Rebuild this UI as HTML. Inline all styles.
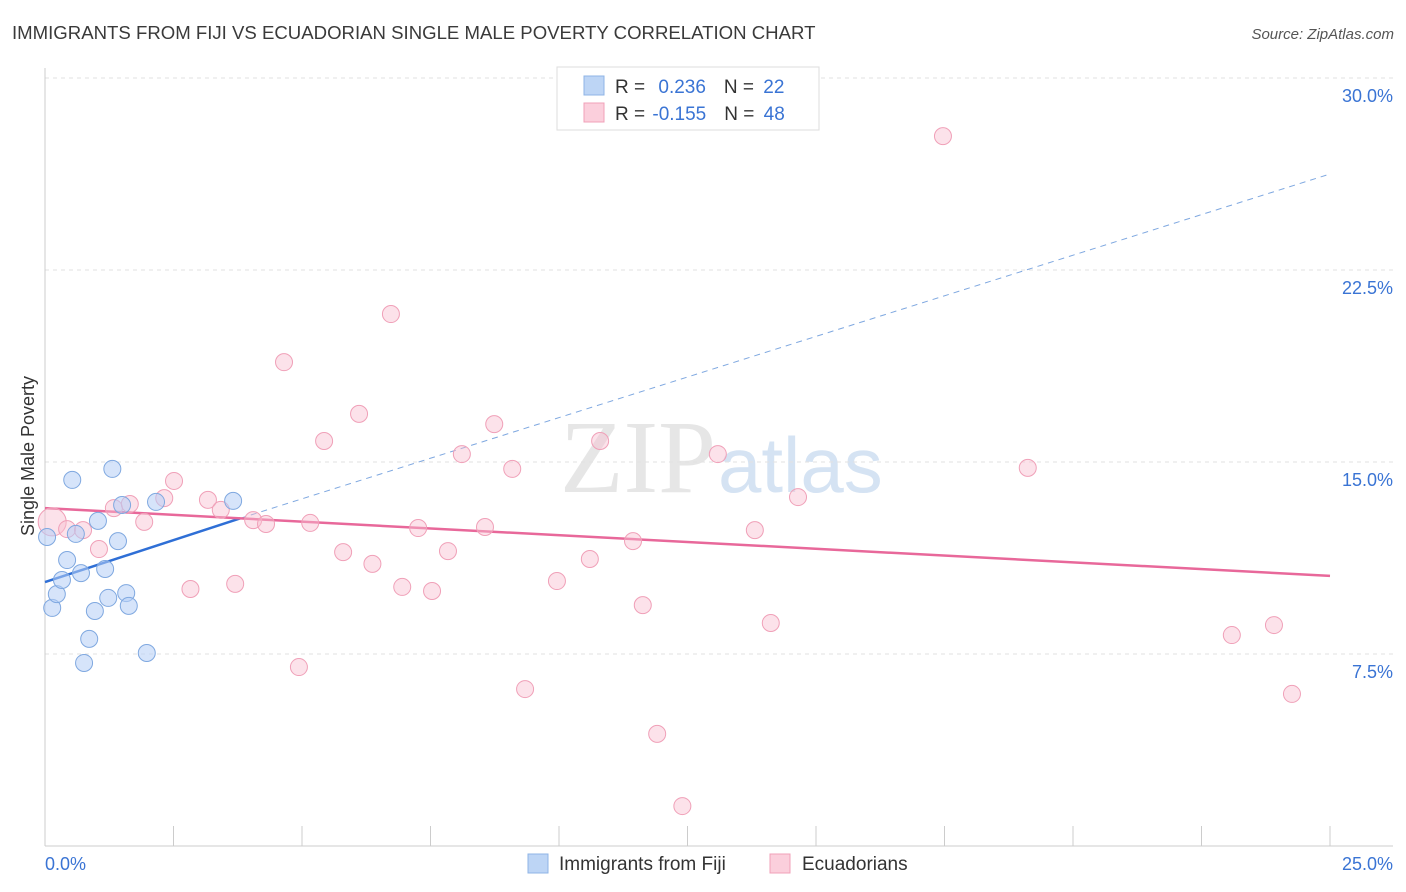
<!DOCTYPE html>
<html><head><meta charset="utf-8">
<style>
body{margin:0;background:#fff;font-family:"Liberation Sans",sans-serif;}
#c{position:relative;width:1406px;height:892px;overflow:hidden;}
</style></head>
<body><div id="c">
<svg id="s" width="1406" height="892" xmlns="http://www.w3.org/2000/svg">
<text x="12" y="39" font-size="18.6" fill="#3a3a3a">IMMIGRANTS FROM FIJI VS ECUADORIAN SINGLE MALE POVERTY CORRELATION CHART</text>
<text x="1394" y="39" font-size="15" fill="#555" font-style="italic" text-anchor="end">Source: ZipAtlas.com</text>
<text x="0" y="0" transform="translate(34,456) rotate(-90)" font-size="18" fill="#333" text-anchor="middle">Single Male Poverty</text>
<text x="716" y="492" font-size="104" fill="#e6e6e6" text-anchor="end" font-family="Liberation Serif,serif">ZIP</text>
<text x="718" y="492" font-size="78" fill="#d5e3f3">atlas</text>
<g id="grid"></g><g id="axes"></g><g id="lines"></g><g id="pts"></g>
<g>
<rect x="557" y="67" width="262" height="63" fill="#fff" stroke="#ddd"/>
<rect x="584" y="76" width="20" height="19" fill="#bdd5f5" stroke="#8fb4e6"/>
<text x="615" y="93" font-size="19" fill="#333">R = <tspan fill="#3a74d4" dx="8">0.236</tspan><tspan dx="18" fill="#333">N = </tspan><tspan fill="#3a74d4" dx="4">22</tspan></text>
<rect x="584" y="103" width="20" height="19" fill="#fbcfdc" stroke="#f0a0b8"/>
<text x="615" y="120" font-size="19" fill="#333">R = <tspan fill="#3a74d4" dx="2">-0.155</tspan><tspan dx="18" fill="#333">N = </tspan><tspan fill="#3a74d4" dx="4">48</tspan></text>
</g>
<g>
<rect x="528" y="854" width="20" height="19" fill="#bdd5f5" stroke="#8fb4e6"/>
<text x="559" y="870" font-size="19" fill="#333">Immigrants from Fiji</text>
<rect x="770" y="854" width="20" height="19" fill="#fbcfdc" stroke="#f0a0b8"/>
<text x="802" y="870" font-size="19" fill="#333">Ecuadorians</text>
</g>
</svg></div>
<script>
const fijiX=[0.04,0.14,0.23,0.33,0.43,0.53,0.6,0.7,0.76,0.86,0.97,1.03,1.17,1.23,1.31,1.42,1.5,1.58,1.63,1.98,2.16,3.66];
const fijiY=[12.07,9.3,9.84,10.39,11.17,14.3,12.19,10.66,7.15,8.09,9.18,12.7,10.82,9.69,14.73,11.91,13.32,9.88,9.38,7.54,13.44,13.48];
const ecuX=[0.14,0.43,0.74,1.05,1.34,1.65,1.93,2.32,2.51,2.83,3.17,3.42,3.7,4.05,4.3,4.65,4.94,5.16,5.43,5.8,6.11,6.37,6.73,6.95,7.26,7.53,7.84,8.11,8.56,8.74,9.09,9.34,9.96,10.6,10.8,11.44,11.63,11.91,12.4,13.09,13.81,14.12,14.65,17.47,19.12,23.09,23.91,24.26];
const ecuY=[12.66,12.38,12.34,11.6,13.2,13.36,12.66,13.59,14.26,10.04,13.52,13.13,10.24,12.73,12.58,18.9,6.99,12.62,15.82,11.48,16.88,11.02,20.78,10.12,12.42,9.96,11.52,15.31,12.46,16.48,14.73,6.13,10.35,11.21,15.82,11.91,9.41,4.38,1.56,15.31,12.34,8.71,13.63,27.73,14.77,8.24,8.63,5.94];
const xTicks=[0,2.5,5,7.5,10,12.5,15,17.5,20,22.5,25];
const yTicks=[7.5,15,22.5,30];
const yTickLabels=["7.5%","15.0%","22.5%","30.0%"];
const fijiLine=[[0,10.31],[3.8,12.8]];
const fijiDash=[[3.8,12.8],[25,26.25]];
const ecuLine=[[0,13.2],[25,10.55]];
const NS="http://www.w3.org/2000/svg";
const X=v=>45+v/25*1285, Y=v=>846-v/7.5*192;
function mk(p,t,a){const e=document.createElementNS(NS,t);for(const k in a)e.setAttribute(k,a[k]);document.getElementById(p).appendChild(e);return e;}
yTicks.forEach((t,i)=>{
 const g=mk('grid','line',{x1:45,x2:1393,y1:Y(t),y2:Y(t),stroke:'#e2e2e2','stroke-dasharray':'4,4'});
 
 
 const l=mk('axes','text',{x:1393,y:Y(t)+24,'font-size':18,fill:'#3a74d4','text-anchor':'end'});
 l.textContent=yTickLabels[i];
 
 
});
const ax=mk('axes','line',{x1:45,x2:45,y1:68,y2:846,stroke:'#ccc'});


const bx=mk('axes','line',{x1:45,x2:1393,y1:846,y2:846,stroke:'#ccc'});


xTicks.forEach(t=>{
 const k=mk('axes','line',{x1:X(t),x2:X(t),y1:826,y2:846,stroke:'#ccc'});
 
 
});
const x0=mk('axes','text',{x:45,y:870,'font-size':18,fill:'#3a74d4'});x0.textContent=xTicks[0].toFixed(1)+'%';


const x1=mk('axes','text',{x:1393,y:870,'font-size':18,fill:'#3a74d4','text-anchor':'end'});x1.textContent=xTicks[xTicks.length-1].toFixed(1)+'%';


ecuX.forEach((x,i)=>{
 const c=mk('pts','circle',{cx:X(x),cy:Y(ecuY[i]),r:i==0?14:8.5,fill:'rgba(248,190,208,0.45)',stroke:'#f0a0b8','stroke-width':1});
 
 
});
fijiX.forEach((x,i)=>{
 const c=mk('pts','circle',{cx:X(x),cy:Y(fijiY[i]),r:8.5,fill:'rgba(180,206,245,0.55)',stroke:'#7fa8e0','stroke-width':1});
 
 
});
const l1=mk('lines','line',{x1:X(fijiLine[0][0]),y1:Y(fijiLine[0][1]),x2:X(fijiLine[1][0]),y2:Y(fijiLine[1][1]),stroke:'#2f6fd6','stroke-width':2.5});


const l2=mk('lines','line',{x1:X(fijiDash[0][0]),y1:Y(fijiDash[0][1]),x2:X(fijiDash[1][0]),y2:Y(fijiDash[1][1]),stroke:'#7fa8e0','stroke-width':1,'stroke-dasharray':'6,5'});


const l3=mk('lines','line',{x1:X(ecuLine[0][0]),y1:Y(ecuLine[0][1]),x2:X(ecuLine[1][0]),y2:Y(ecuLine[1][1]),stroke:'#e8689a','stroke-width':2.5});


</script>
</body></html>
